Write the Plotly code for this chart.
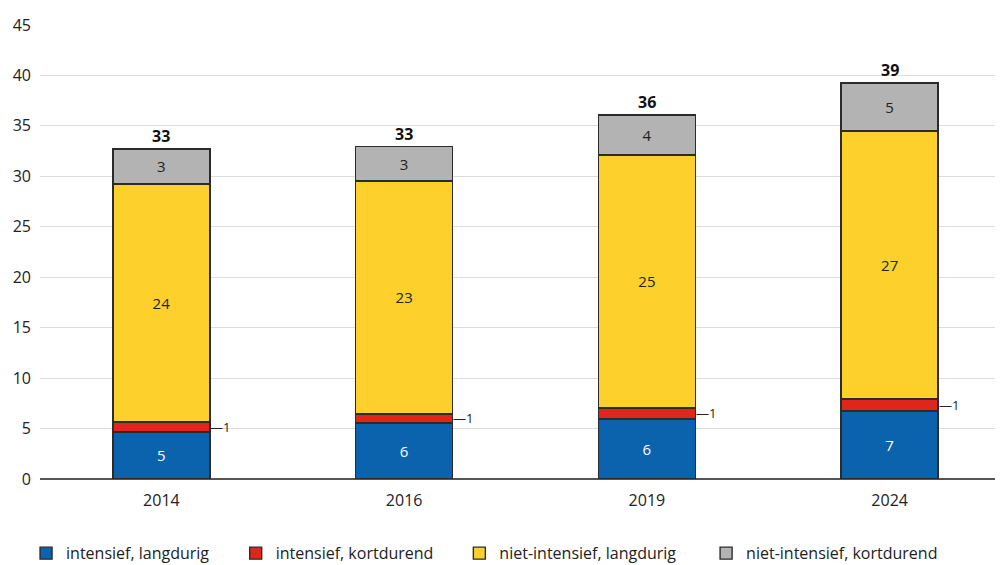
import plotly.graph_objects as go

years = ["2014", "2016", "2019", "2024"]
intensief_langdurig = [4.66, 5.55, 5.95, 6.74]
intensief_kortdurend = [1.0, 0.9, 1.1, 1.2]
niet_intensief_langdurig = [23.6, 23.1, 25.07, 26.55]
niet_intensief_kortdurend = [3.45, 3.4, 3.97, 4.75]
totals = [33, 33, 36, 39]
red_labels = ["1", "1", "1", "1"]

series = [
    ("intensief, langdurig", intensief_langdurig, "#0b62ad", "white", True),
    ("intensief, kortdurend", intensief_kortdurend, "#e0261b", "#222", False),
    ("niet-intensief, langdurig", niet_intensief_langdurig, "#fdd02b", "#222", True),
    ("niet-intensief, kortdurend", niet_intensief_kortdurend, "#b3b3b3", "#222", True),
]
legend_ids = ["legend", "legend2", "legend3", "legend4"]
legend_x = [0.018, 0.227, 0.450, 0.696]

font = "Open Sans"
fig = go.Figure()
for (name, vals, color, tcolor, show_text), lid in zip(series, legend_ids):
    fig.add_trace(go.Bar(
        x=years, y=vals, name=name, legend=lid,
        marker=dict(color=color, line=dict(color="#2b2b2b", width=1.4)),
        width=0.4,
        texttemplate="%{y:.0f}" if show_text else None,
        textposition="inside" if show_text else "none",
        insidetextanchor="middle",
        textfont=dict(color=tcolor, size=15, family=font),
        hoverinfo="skip",
    ))

annotations = []
for i, yr in enumerate(years):
    top = intensief_langdurig[i] + intensief_kortdurend[i] + niet_intensief_langdurig[i] + niet_intensief_kortdurend[i]
    annotations.append(dict(x=i, y=top, xref="x", yref="y", text="<b>%d</b>" % totals[i],
                            showarrow=False, yanchor="bottom", yshift=0,
                            font=dict(size=16, color="#111", family=font)))
    mid = intensief_langdurig[i] + intensief_kortdurend[i] / 2
    annotations.append(dict(x=i, y=mid, xref="x", yref="y", text="—" + red_labels[i],
                            showarrow=False, xanchor="left", xshift=47,
                            font=dict(size=13, color="#222", family=font)))

legend_cfg = {}
for lid, lx in zip(legend_ids, legend_x):
    legend_cfg[lid] = dict(orientation="h", x=lx, xanchor="left", xref="container",
                           y=0.035, yanchor="middle", yref="container",
                           font=dict(size=16), bgcolor="rgba(0,0,0,0)")

# page body has an 8px offset; margins compensate for it
fig.update_layout(
    width=1003, height=565,
    margin=dict(l=32, r=0, t=17, b=94, autoexpand=False),
    barmode="stack",
    plot_bgcolor="white", paper_bgcolor="white",
    font=dict(family=font, size=15, color="#222"),
    xaxis=dict(type="category", range=[-0.5, 3.5], showgrid=False, automargin=False,
               showline=False, ticks="", tickfont=dict(size=16), ticklabelstandoff=10),
    yaxis=dict(range=[0, 45], dtick=5, showgrid=True, gridcolor="#dcdcdc", gridwidth=1,
               automargin=False,
               zeroline=True, zerolinecolor="#555", zerolinewidth=1.5,
               showline=False, ticks="", tickfont=dict(size=16), ticklabelstandoff=8),
    annotations=annotations,
    showlegend=True,
    **legend_cfg,
)

fig.write_html("out.html")
